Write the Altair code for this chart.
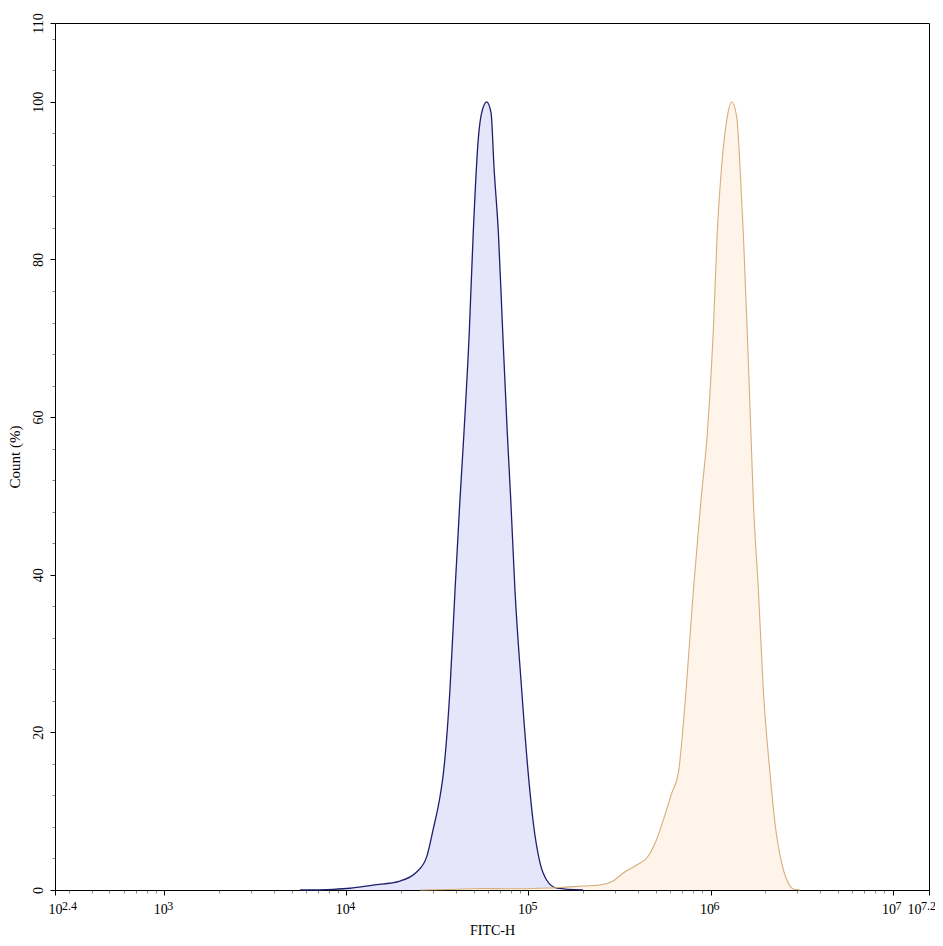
import altair as alt
import pandas as pd

# ---- data (FITC-H intensity, Count %) ----
blue_fitc = [5570, 8450, 10470, 14000, 19720, 24320, 27610, 29920, 32660, 34120,
             37070, 39540, 42070, 44260, 47320, 49770, 53090, 55340, 59020, 62370,
             64710, 68390, 72280, 76560, 79980, 84330, 91830, 99770, 106400, 115900,
             125900, 142900, 199500]
blue_pct = [0, 0.09, 0.22, 0.63, 1.14, 2.28, 4.2, 7.6, 11.8, 14.8,
            25.4, 38.1, 49.5, 58.0, 70.7, 83.4, 95.4, 98.6, 100, 98.6,
            91.7, 83.4, 70.7, 58.0, 49.5, 38.1, 25.4, 14.8, 8.5, 3.4,
            1.27, 0.25, 0]

orange_fitc = [25410, 37070, 54200, 79250, 115900, 149300, 199500, 247200, 291700, 331900,
               393600, 446700, 496600, 550800, 612400, 665300, 734500, 805400, 887000, 961000,
               1035000, 1089000, 1151000, 1236000, 1306000, 1393000, 1452000, 1514000, 1592000, 1667000,
               1718000, 1832000, 1950000, 2123000, 2259000, 2460000, 2673000, 2851000, 3105000]
orange_pct = [0, 0.06, 0.19, 0.15, 0.22, 0.32, 0.51, 0.63, 1.14, 2.16,
              3.17, 4.06, 5.96, 8.9, 12.3, 14.8, 25.4, 38.1, 49.5, 58.0,
              70.7, 83.4, 91.8, 98.1, 100, 98.1, 91.8, 83.4, 70.7, 58.0,
              49.5, 38.1, 25.4, 14.8, 8.5, 3.4, 0.89, 0.13, 0]

x_lo, x_hi = 10 ** 2.4, 10 ** 7.2
x_major = [x_lo, 1e3, 1e4, 1e5, 1e6, 1e7, x_hi]
x_major_exp = ["2.4", "3", "4", "5", "6", "7", "7.2"]
x_major_pos = ["first", "mid", "mid", "mid", "mid", "mid", "last"]
x_minor = [k * 10 ** n for n in range(2, 8) for k in range(2, 10) if x_lo < k * 10 ** n < x_hi]
y_major = [0, 20, 40, 60, 80, 100, 110]
y_minor = [v for v in range(4, 110, 4) if v % 20 != 0]

W, H = 874, 867

df = pd.concat([
    pd.DataFrame({"fitc": blue_fitc, "pct": blue_pct, "series": "blue"}),
    pd.DataFrame({"fitc": orange_fitc, "pct": orange_pct, "series": "orange"}),
])
exp_df = pd.DataFrame({"fitc": x_major, "exp": x_major_exp, "pos": x_major_pos})

FONT = "Liberation Serif"
x_major_test = "abs(log(datum.value)/LN10*5 - round(log(datum.value)/LN10*5)) < 0.001"
y_major_test = "datum.value % 20 == 0 || datum.value == 110"

X = alt.X(
    "fitc:Q",
    title="FITC-H",
    scale=alt.Scale(type="log", domain=[x_lo, x_hi], nice=False),
    axis=alt.Axis(
        values=sorted(x_major + x_minor),
        labelExpr=f"({x_major_test}) ? '10' : ''",
        labelOffset={"condition": [{"test": "datum.value < 300", "value": 0},
                                   {"test": "datum.value > 12000000", "value": -15}],
                     "value": -4},
        tickSize={"condition": {"test": x_major_test, "value": 5}, "value": 3},
        tickColor={"condition": {"test": x_major_test, "value": "#000000"}, "value": "#888888"},
        labelFont=FONT, labelFontSize=14, labelColor="#000000", labelPadding=7,
        labelOverlap=False, labelFlush=False,
        titleFont=FONT, titleFontSize=14, titleFontWeight="normal", titleColor="#000000",
        titlePadding=7,
        domainColor="#000000", grid=False,
    ),
)
Y = alt.Y(
    "pct:Q",
    title="Count (%)",
    scale=alt.Scale(domain=[0, 110], nice=False),
    axis=alt.Axis(
        values=sorted(y_major + y_minor),
        labelExpr=f"({y_major_test}) ? datum.label : ''",
        tickSize={"condition": {"test": y_major_test, "value": 5}, "value": 3},
        tickColor={"condition": {"test": y_major_test, "value": "#000000"}, "value": "#888888"},
        labelAngle=270, labelAlign="center", labelBaseline="bottom", labelPadding=5,
        labelFont=FONT, labelFontSize=14, labelColor="#000000", labelOverlap=False,
        titleFont=FONT, titleFontSize=15, titleFontWeight="normal", titleColor="#000000",
        titlePadding=9,
        domainColor="#000000", grid=False,
    ),
)

base = alt.Chart(df)
blue_area = base.transform_filter("datum.series == 'blue'").mark_area(
    color="#e6e6fa", interpolate="monotone").encode(x=X, y=Y)
orange_area = base.transform_filter("datum.series == 'orange'").mark_area(
    color="#fef4ea", interpolate="monotone").encode(x=X, y=Y)
blue_line = base.transform_filter("datum.series == 'blue'").mark_line(
    color="#1e1e6e", strokeWidth=1.3, interpolate="monotone").encode(x=X, y=Y)
orange_line = base.transform_filter("datum.series == 'orange'").mark_line(
    color="#d6ae7a", strokeWidth=1.1, interpolate="monotone").encode(x=X, y=Y)


def exps(pos, dx):
    return alt.Chart(exp_df).transform_filter(f"datum.pos == '{pos}'").mark_text(
        align="left", baseline="alphabetic", font=FONT, fontSize=12, color="#000000", dx=dx
    ).encode(x=X, y=alt.value(H + 20), text="exp:N")


chart = alt.layer(
    blue_area, orange_area, blue_line, orange_line,
    exps("first", 7), exps("mid", 3), exps("last", -8),
).properties(
    width=W, height=H,
    padding={"left": 47, "top": 15, "right": 6, "bottom": 48},
    autosize=alt.AutoSizeParams(type="none"),
).configure(background="white").configure_view(stroke="#000000", strokeWidth=1)

chart.save("out.html", embed_options={"renderer": "svg", "actions": False})
